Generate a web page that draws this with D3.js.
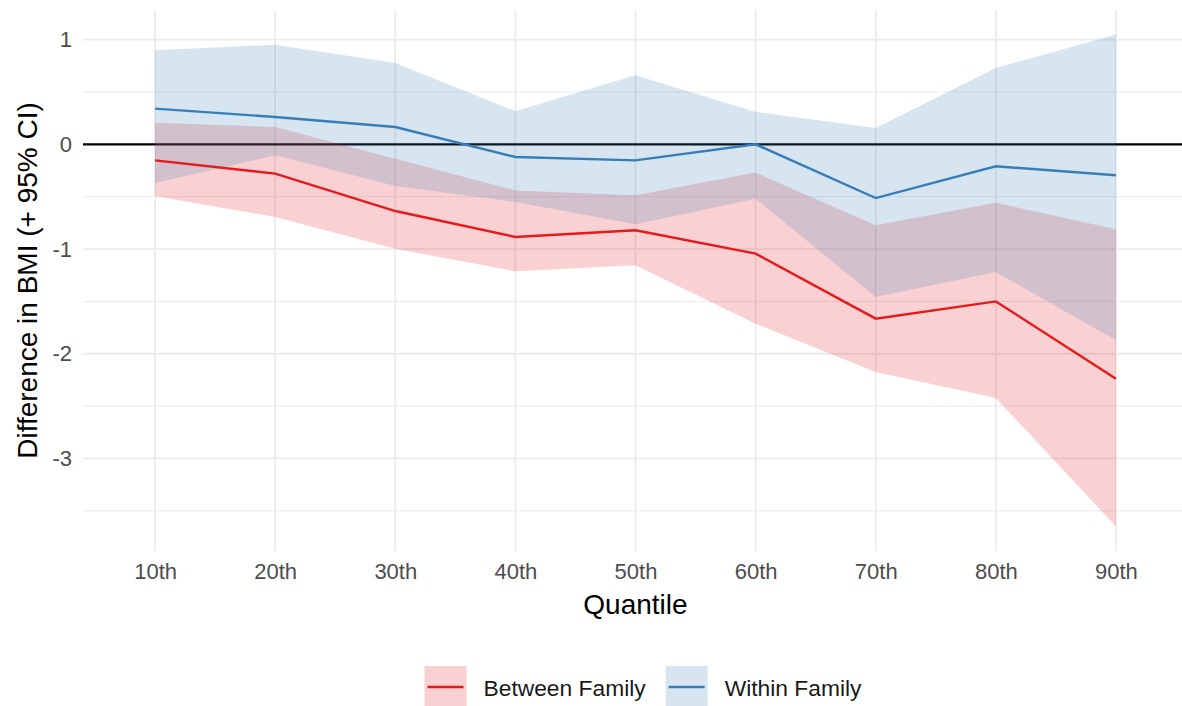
<!DOCTYPE html>
<html>
<head>
<meta charset="utf-8">
<script src="https://cdn.jsdelivr.net/npm/d3@7"></script>
<style>
  body { margin: 0; background: #fff; }
  svg { display: block; font-family: "Liberation Sans", Arial, sans-serif; }
  .grid-major { stroke: #ebebeb; stroke-width: 1.8; }
  .grid-minor { stroke: #ebebeb; stroke-width: 1; }
  .tick-label { fill: #4d4d4d; font-size: 22px; }
  .axis-title { fill: #000; font-size: 28px; }
  .legend-text { fill: #1a1a1a; font-size: 22.8px; }
</style>
</head>
<body>
<div id="chart"></div>
<script>
"use strict";

// quantiles on the x axis
var quantiles = ["10th", "20th", "30th", "40th", "50th", "60th", "70th", "80th", "90th"];

// between family estimate + 95% CI
var betweenEst = [-0.153, -0.28, -0.637, -0.885, -0.821, -1.044, -1.665, -1.50, -2.238];
var betweenLo  = [-0.494, -0.694, -0.997, -1.213, -1.156, -1.713, -2.175, -2.423, -3.649];
var betweenHi  = [0.207, 0.165, -0.137, -0.44, -0.487, -0.27, -0.774, -0.557, -0.812];

// within family estimate + 95% CI
var withinEst = [0.341, 0.261, 0.165, -0.121, -0.153, 0.0, -0.513, -0.21, -0.296];
var withinLo  = [-0.37, -0.105, -0.398, -0.551, -0.764, -0.519, -1.458, -1.22, -1.872];
var withinHi  = [0.898, 0.952, 0.777, 0.315, 0.659, 0.309, 0.156, 0.729, 1.048];

var seriesNames = ["Between Family", "Within Family"];
var seriesColors = ["#e41a1c", "#377eb8"];

var yMajorTicks = [-3, -2, -1, 0, 1];
var yMinorTicks = [-3.5, -2.5, -1.5, -0.5, 0.5];

var width = 1182;
var height = 706;
var panelLeft = 83, panelRight = 1188, panelTop = 10, panelBottom = 551;

var series = [
  { name: seriesNames[0], color: seriesColors[0], est: betweenEst, lo: betweenLo, hi: betweenHi },
  { name: seriesNames[1], color: seriesColors[1], est: withinEst, lo: withinLo, hi: withinHi }
];

var svg = d3.select('#chart')
            .append('svg')
            .attr('width', width)
            .attr('height', height);

// ggplot-like expansion: 5% on continuous y, 0.6 units on discrete x
var allVals = betweenLo.concat(betweenHi, withinLo, withinHi);
var yMin = d3.min(allVals), yMax = d3.max(allVals);
var yPad = (yMax - yMin) * 0.05;

var scaleX = d3.scalePoint()
              .domain(quantiles)
              .range([panelLeft, panelRight])
              .padding(0.6);
var scaleY = d3.scaleLinear()
              .domain([yMin - yPad, yMax + yPad])
              .range([panelBottom, panelTop]);

// grid
var grid = svg.append('g');
grid.selectAll('.grid-minor')
  .data(yMinorTicks)
.enter().append('line')
  .attr('class', 'grid-minor')
  .attr('x1', panelLeft).attr('x2', panelRight)
  .attr('y1', function(d) { return scaleY(d); })
  .attr('y2', function(d) { return scaleY(d); });
grid.selectAll('.grid-major-y')
  .data(yMajorTicks)
.enter().append('line')
  .attr('class', 'grid-major')
  .attr('x1', panelLeft).attr('x2', panelRight)
  .attr('y1', function(d) { return scaleY(d); })
  .attr('y2', function(d) { return scaleY(d); });
grid.selectAll('.grid-major-x')
  .data(quantiles)
.enter().append('line')
  .attr('class', 'grid-major')
  .attr('x1', function(d) { return scaleX(d); })
  .attr('x2', function(d) { return scaleX(d); })
  .attr('y1', panelTop).attr('y2', panelBottom);

// zero line
svg.append('line')
  .attr('x1', panelLeft).attr('x2', panelRight)
  .attr('y1', scaleY(0)).attr('y2', scaleY(0))
  .attr('stroke', '#000')
  .attr('stroke-width', 2.2);

// ribbons
var area = d3.area()
  .x(function(d) { return scaleX(d.q); })
  .y0(function(d) { return scaleY(d.lo); })
  .y1(function(d) { return scaleY(d.hi); });

var line = d3.line()
  .x(function(d) { return scaleX(d.q); })
  .y(function(d) { return scaleY(d.est); });

series.forEach(function(s) {
  s.points = quantiles.map(function(q, i) {
    return { q: q, est: s.est[i], lo: s.lo[i], hi: s.hi[i] };
  });
});

svg.append('g').selectAll('path')
  .data(series)
.enter().append('path')
  .attr('d', function(s) { return area(s.points); })
  .attr('fill', function(s) { return s.color; })
  .attr('fill-opacity', 0.2);

svg.append('g').selectAll('path')
  .data(series)
.enter().append('path')
  .attr('d', function(s) { return line(s.points); })
  .attr('fill', 'none')
  .attr('stroke', function(s) { return s.color; })
  .attr('stroke-width', 2.4);

// axes (text only, like theme_minimal)
var yAxis = d3.axisLeft(scaleY)
              .tickValues(yMajorTicks)
              .tickSize(0)
              .tickPadding(11)
              .tickFormat(d3.format('d'));
var xAxis = d3.axisBottom(scaleX)
              .tickSize(0)
              .tickPadding(12);

var gY = svg.append('g')
  .attr('transform', 'translate(' + panelLeft + ',0)')
  .call(yAxis);
var gX = svg.append('g')
  .attr('transform', 'translate(0,' + panelBottom + ')')
  .call(xAxis);

[gX, gY].forEach(function(g) {
  g.select('.domain').remove();
  g.selectAll('text')
    .attr('class', 'tick-label')
    .attr('fill', null)
    .style('font-size', '22px')
    .style('font-family', '"Liberation Sans", Arial, sans-serif');
});
gY.selectAll('text').text(function(d) { return d < 0 ? '-' + Math.abs(d) : d; });

// axis titles
svg.append('text')
  .attr('class', 'axis-title')
  .attr('x', (scaleX(quantiles[0]) + scaleX(quantiles[quantiles.length - 1])) / 2)
  .attr('y', 614)
  .attr('text-anchor', 'middle')
  .text('Quantile');

svg.append('text')
  .attr('class', 'axis-title')
  .attr('transform', 'translate(37,' + (panelTop + panelBottom) / 2 + ') rotate(-90)')
  .attr('text-anchor', 'middle')
  .text('Difference in BMI (+ 95% CI)');

// legend
var keySize = 42, keyTop = 666, legendCenter = 643;
var legend = svg.append('g');
var items = legend.selectAll('g')
  .data(series)
.enter().append('g');

items.append('rect')
  .attr('width', keySize)
  .attr('height', keySize)
  .attr('y', keyTop)
  .attr('fill', function(s) { return s.color; })
  .attr('fill-opacity', 0.2);
items.append('line')
  .attr('x1', 3).attr('x2', keySize - 3)
  .attr('y1', keyTop + 21).attr('y2', keyTop + 21)
  .attr('stroke', function(s) { return s.color; })
  .attr('stroke-width', 2.4);
items.append('text')
  .attr('class', 'legend-text')
  .attr('x', keySize + 17)
  .attr('y', keyTop + 30)
  .text(function(s) { return s.name; });

var offsets = [], cursor = 0;
items.each(function() {
  offsets.push(cursor);
  var tw = d3.select(this).select('text').node().getComputedTextLength();
  cursor += keySize + 17 + tw + 20;
});
var total = cursor - 20;
var startX = legendCenter - total / 2;
items.attr('transform', function(s, i) { return 'translate(' + (startX + offsets[i]) + ',0)'; });
</script>
</body>
</html>
